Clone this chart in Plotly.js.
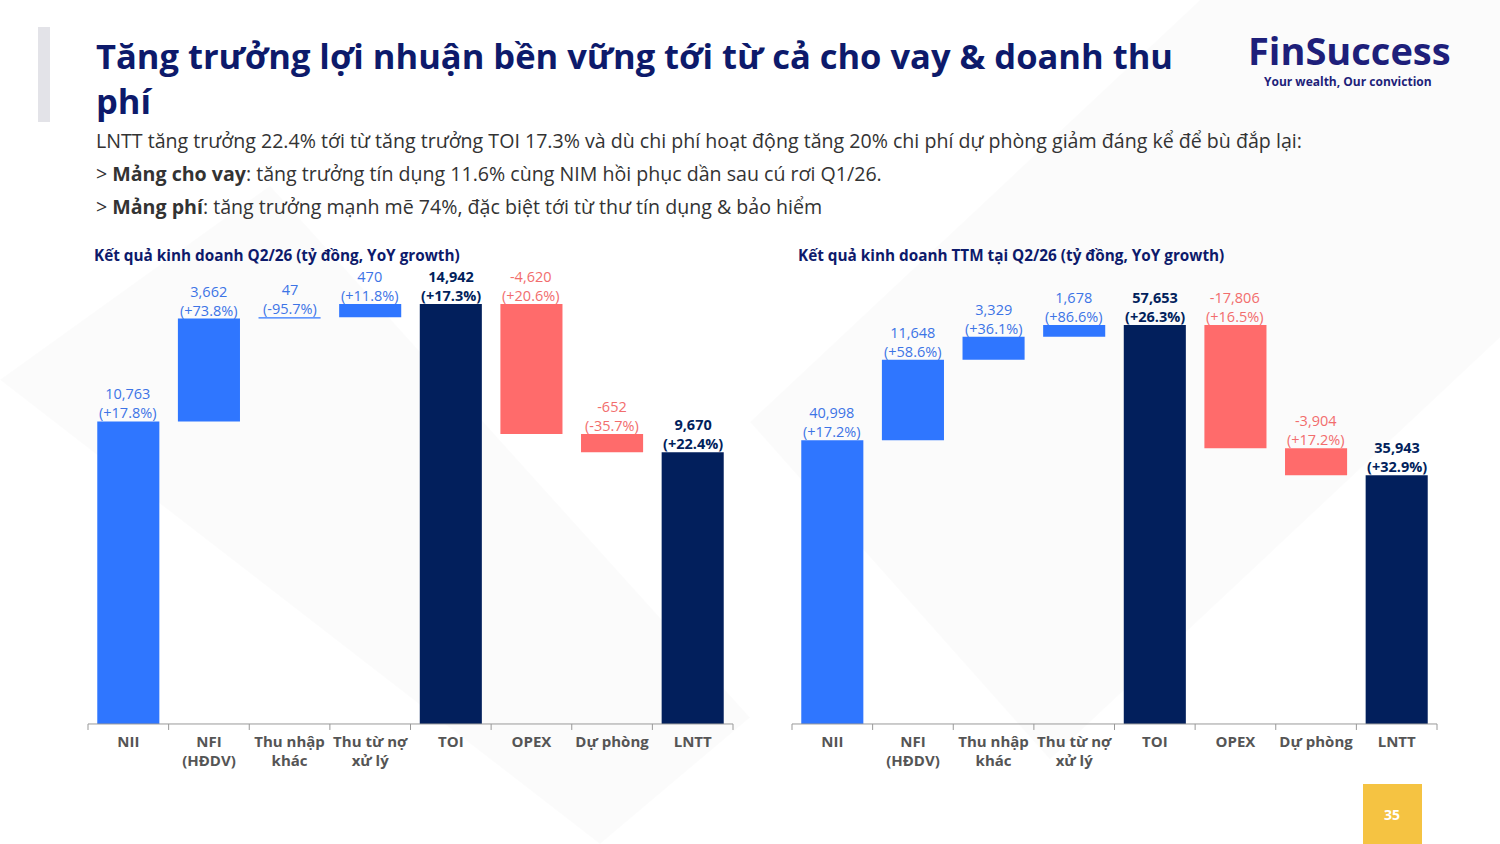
<!DOCTYPE html><html><head><meta charset="utf-8"><script src="https://cdn.plot.ly/plotly-3.0.1.min.js"></script>
<style>body{margin:0;background:#fff}#c{width:1500px;height:844px}</style></head><body><div id="c"></div><script>
const categories=["NII","NFI<br>(HĐDV)","Thu nhập<br>khác","Thu từ nợ<br>xử lý","TOI","OPEX","Dự phòng","LNTT"];
const kinds=["inc","inc","inc","inc","total","dec","dec","total"];
const q2Values=[10763,3662,47,470,14942,-4620,-652,9670];
const q2Growth=["+17.8%","+73.8%","-95.7%","+11.8%","+17.3%","+20.6%","-35.7%","+22.4%"];
const ttmValues=[40998,11648,3329,1678,57653,-17806,-3904,35943];
const ttmGrowth=["+17.2%","+58.6%","+36.1%","+86.6%","+26.3%","+16.5%","+17.2%","+32.9%"];
const colors={inc:"#2F76FF",total:"#021F5C",dec:"#FF6B6B"};
const labelColors={inc:"#3D74E6",total:"#021F5C",dec:"#F26D6D"};
const traces=[],ann=[];
function build(vals,gr,xa,ya){
  let cum=0;const bases=[],ys=[],tops=[];
  vals.forEach((v,i)=>{
    if(kinds[i]=="total"){bases.push(0);ys.push(v);tops.push(v);cum=v;}
    else if(v>=0){bases.push(cum);ys.push(v);cum+=v;tops.push(cum);}
    else{bases.push(cum);ys.push(v);tops.push(cum);cum+=v;}
  });
  traces.push({type:"bar",x:categories,y:ys,base:bases,xaxis:xa,yaxis:ya,width:0.77,
    marker:{color:kinds.map(k=>colors[k])},hoverinfo:"none"});
  vals.forEach((v,i)=>{const b=kinds[i]=="total";
    ann.push({xref:xa,yref:ya,x:categories[i],y:tops[i],yanchor:"bottom",yshift:-3,showarrow:false,
      text:(b?"<b>":"")+v.toLocaleString("en-US")+"<br>("+gr[i]+")"+(b?"</b>":""),
      font:{family:"Open Sans",size:14.5,color:labelColors[kinds[i]]}});});
}
build(q2Values,q2Growth,"x","y");
build(ttmValues,ttmGrowth,"x2","y2");
const txt=(x,y,t,s,c,o)=>Object.assign({xref:"paper",yref:"paper",x:x/1500,y:1-y/844,xanchor:"left",yanchor:"top",showarrow:false,align:"left",text:t,font:{family:"Open Sans",size:s,color:c}},o||{});
ann.push(txt(94,30,"<b>Tăng trưởng lợi nhuận bền vững tới từ cả cho vay & doanh thu<br>phí</b>",34.5,"#0D1A6B",{}));
ann.push(txt(94,125,"LNTT tăng trưởng 22.4% tới từ tăng trưởng TOI 17.3% và dù chi phí hoạt động tăng 20% chi phí dự phòng giảm đáng kể để bù đắp lại:",19.6,"#333"));
ann.push(txt(94,158,"> <b>Mảng cho vay</b>: tăng trưởng tín dụng 11.6% cùng NIM hồi phục dần sau cú rơi Q1/26.",19.6,"#333"));
ann.push(txt(94,191,"> <b>Mảng phí</b>: tăng trưởng mạnh mẽ 74%, đặc biệt tới từ thư tín dụng & bảo hiểm",19.6,"#333"));
ann.push(txt(92,243,"<b>Kết quả kinh doanh Q2/26 (tỷ đồng, YoY growth)</b>",15.3,"#0D1A6B"));
ann.push(txt(796,243,"<b>Kết quả kinh doanh TTM tại Q2/26 (tỷ đồng, YoY growth)</b>",15.3,"#0D1A6B"));
ann.push(txt(1246,22,"<b>FinSuccess</b>",38,"#1E1F7A",{}));
ann.push(txt(1262,71,"<b>Your wealth, Our conviction</b>",12,"#1E1F7A"));
ann.push(txt(1392,814,"<b>35</b>",14,"#fff",{xanchor:"center",yanchor:"middle"}));
const ax=(d)=>({domain:d,type:"category",showgrid:false,zeroline:false,showline:false,ticks:"",
  tickfont:{family:"Open Sans",size:15,color:"#555",weight:"bold"},ticklabelstandoff:7});
const ya=(r)=>({domain:[0.1422,0.6919],range:[0,r],visible:false});
const shapes=[
 {type:"path",xref:"paper",yref:"paper",path:"M0,0.55 L0.18,0.78 L0.5,0.15 L0.4,0 Z",fillcolor:"rgba(0,0,0,0.015)",line:{width:0},layer:"below"},
 {type:"path",xref:"paper",yref:"paper",path:"M0.5,0.5 L0.8,1 L1,1 L1,0.6 L0.7,0.1 Z",fillcolor:"rgba(0,0,0,0.015)",line:{width:0},layer:"below"},
 {type:"rect",xref:"paper",yref:"paper",x0:38/1500,x1:50/1500,y0:1-122/844,y1:1-27/844,fillcolor:"#E3E3E8",line:{width:0}},
 {type:"rect",xref:"paper",yref:"paper",x0:1363/1500,x1:1422/1500,y0:0,y1:1-784/844,fillcolor:"#F5C342",line:{width:0}}
];
[[88,733],[792,1437]].forEach(([a,b])=>{
  shapes.push({type:"line",xref:"paper",yref:"paper",x0:a/1500,x1:b/1500,y0:0.1422,y1:0.1422,line:{color:"#999",width:1}});
  for(let i=0;i<=8;i++){const x=a+(b-a)*i/8;shapes.push({type:"line",xref:"paper",yref:"paper",x0:x/1500,x1:x/1500,y0:0.1422,y1:0.1422-6/844,line:{color:"#999",width:1}});}
});
Plotly.newPlot("c",traces,{width:1500,height:844,margin:{l:0,r:0,t:0,b:0},showlegend:false,
 paper_bgcolor:"#fff",plot_bgcolor:"rgba(0,0,0,0)",barmode:"overlay",
 xaxis:ax([88/1500,733/1500]),xaxis2:ax([792/1500,1437/1500]),
 yaxis:ya(16507),yaxis2:Object.assign(ya(67044),{anchor:"x2"}),
 annotations:ann,shapes:shapes},{staticPlot:true});
</script></body></html>
